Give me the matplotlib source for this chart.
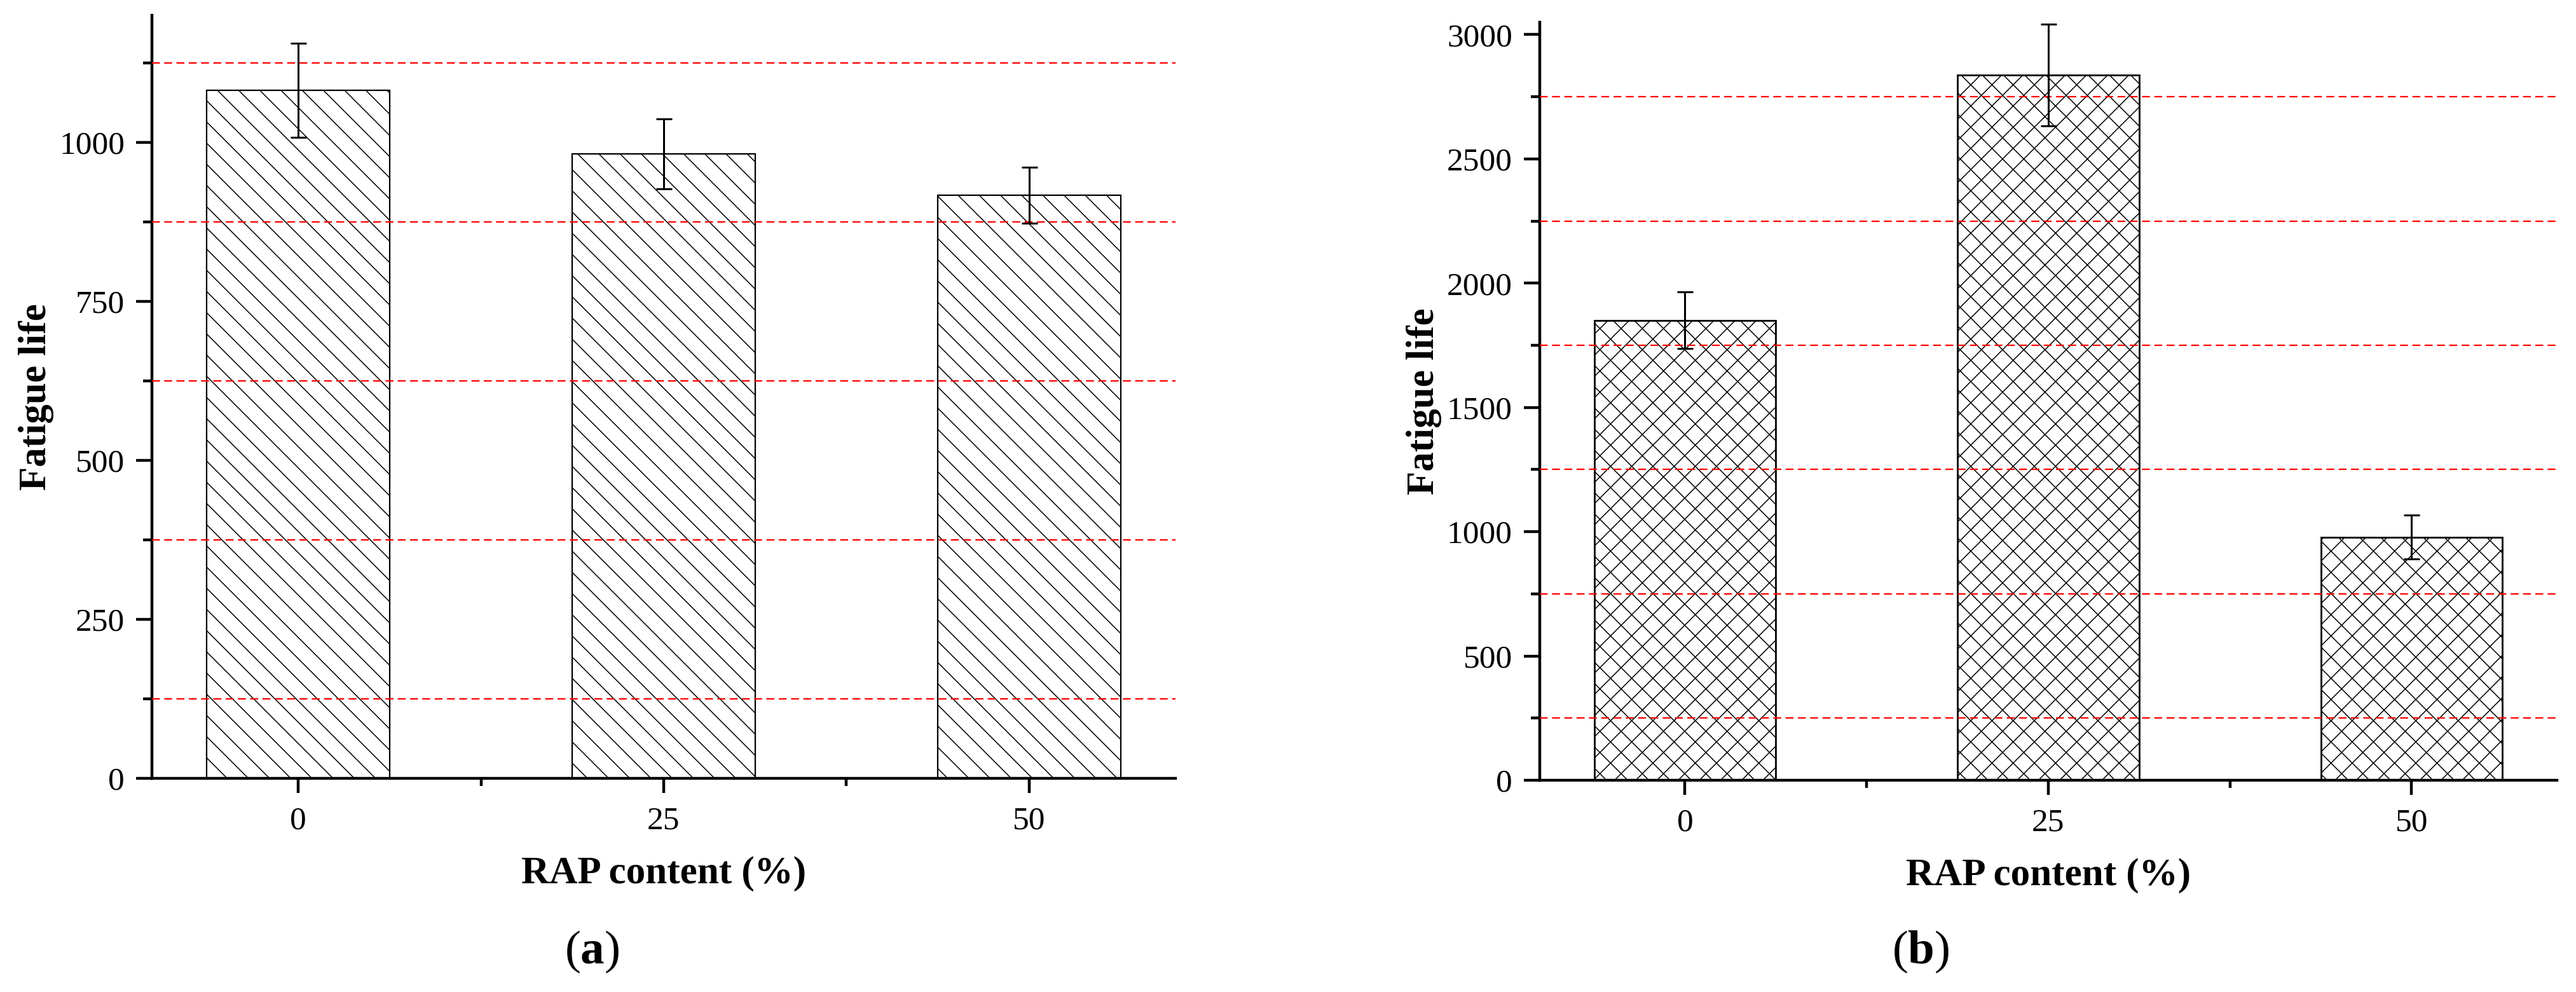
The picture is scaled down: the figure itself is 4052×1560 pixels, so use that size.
import matplotlib
matplotlib.use("Agg")
import matplotlib.pyplot as plt
from matplotlib.ticker import MultipleLocator, AutoMinorLocator, FixedLocator

# ================= DATA =================
RAP_CONTENT = ["0", "25", "50"]

# (a) fatigue life, first mixture set
LIFE_A = [1082, 982, 917]
ERR_A = [74, 55, 44]

# (b) fatigue life, second mixture set
LIFE_B = [1851, 2838, 978]
ERR_B = [115, 205, 88]

OUTPUT_IMAGE = "out.png"

# ================= STYLE =================
plt.rcParams["font.family"] = ["Liberation Serif", "DejaVu Serif"]
plt.rcParams["mathtext.fontset"] = "custom"
plt.rcParams["mathtext.rm"] = "Liberation Serif"
plt.rcParams["mathtext.bf"] = "Liberation Serif:bold"
plt.rcParams["hatch.linewidth"] = 0.55
plt.rcParams["hatch.color"] = "black"


def draw_panel(ax, values, errors, ymax, major, hatch, edge_lw):
    x = list(range(1, len(values) + 1))
    ax.bar(x, values, width=0.5, color="white", edgecolor="black",
           linewidth=edge_lw, hatch=hatch, zorder=1)
    ax.errorbar(x, values, yerr=errors, fmt="none", ecolor="black",
                elinewidth=1.1, capsize=4.5, capthick=1.1, zorder=3)

    ax.set_xlim(0.6, len(values) + 0.4)
    ax.set_ylim(0, ymax)
    ax.set_xticks(x)
    ax.set_xticklabels(RAP_CONTENT)
    ax.xaxis.set_minor_locator(FixedLocator([1.5, 2.5]))
    ax.yaxis.set_major_locator(MultipleLocator(major))
    ax.yaxis.set_minor_locator(AutoMinorLocator(2))

    for side in ["top", "right"]:
        ax.spines[side].set_visible(False)
    for side in ["left", "bottom"]:
        ax.spines[side].set_linewidth(1.6)

    ax.tick_params(axis="y", which="major", direction="out", length=9,
                   width=1.6, labelsize=18.5, pad=6.5)
    ax.tick_params(axis="y", which="minor", direction="out", length=5, width=1.6)
    ax.tick_params(axis="x", which="major", direction="out", length=8.3,
                   width=1.6, labelsize=18.5, pad=7.5)
    ax.tick_params(axis="x", which="minor", direction="out", length=4.3, width=1.6)

    # red dashed lines sit on the minor y ticks, drawn over the bars
    ax.set_axisbelow(False)
    ax.grid(True, axis="y", which="minor", color="#ff0000", linewidth=0.8,
            linestyle=(0, (5.6, 3.1)))

    ax.set_xlabel("RAP content (%)", fontsize=22, fontweight="bold")
    ax.set_ylabel("Fatigue life", fontsize=22, fontweight="bold")
    ax.xaxis.set_label_coords(0.5, -0.102)
    ax.yaxis.set_label_coords(-0.096, 0.5)


def main():
    fig = plt.figure(figsize=(20.26, 7.8), dpi=200)
    ax_a = fig.add_axes([0.0590, 0.2154, 0.3973, 0.7692])
    ax_b = fig.add_axes([0.5977, 0.2135, 0.3949, 0.7641])

    draw_panel(ax_a, LIFE_A, ERR_A, 1200, 250, "\\\\", 0.8)
    draw_panel(ax_b, LIFE_B, ERR_B, 3050, 500, "xx", 1.0)

    fig.text(0.2298, 0.0404, r"($\mathbf{a}$)", fontsize=27, ha="center", va="center")
    fig.text(0.7456, 0.0404, r"($\mathbf{b}$)", fontsize=27, ha="center", va="center")

    fig.savefig(OUTPUT_IMAGE, dpi=200, facecolor="white")


if __name__ == "__main__":
    main()
